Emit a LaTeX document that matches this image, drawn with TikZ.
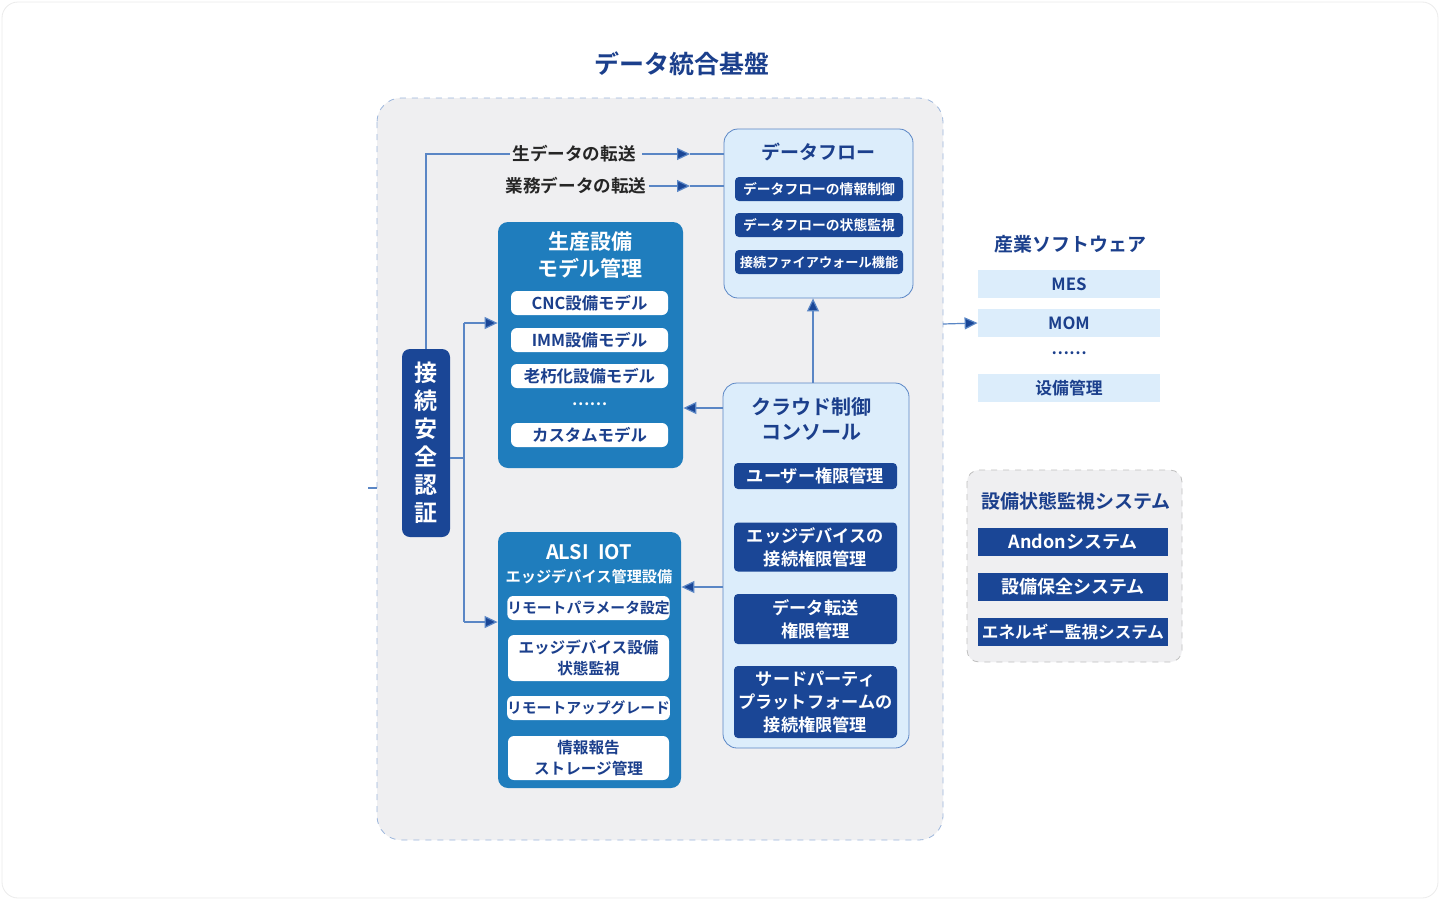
\documentclass[tikz,border=0pt]{standalone}
\usepackage{fontspec}
\setmainfont{Noto Sans CJK JP}[BoldFont={* Bold}]
\usetikzlibrary{arrows.meta}
\usetikzlibrary{calc}
\usetikzlibrary{positioning}
\definecolor{deep}{HTML}{1A4696}
\definecolor{mid}{HTML}{1F7DBD}
\definecolor{pale}{HTML}{DCEDFB}
\definecolor{ink}{HTML}{1B3F8C}
\definecolor{wire}{HTML}{5A86C5}
\definecolor{panel}{HTML}{EFEFF1}
\tikzset{
  dark/.style={fill=deep, text=white, rounded corners=2pt, inner sep=0pt, font=\bfseries\fontsize{6.9}{9.5}\selectfont, align=center},
  chip/.style={fill=white, text=ink, rounded corners=3pt, inner sep=0pt, font=\bfseries\fontsize{8.2}{10}\selectfont, align=center, minimum width=78.5pt, minimum height=12pt},
  soft/.style={fill=pale, text=ink, inner sep=0pt, font=\bfseries\fontsize{8.4}{10}\selectfont, minimum width=91pt, minimum height=14pt},
  link/.style={draw=wire, line width=0.6pt},
  tip/.style={link, -{Triangle[length=6.5pt,width=6pt,fill=deep]}},
}
\begin{document}
\begin{tikzpicture}[x=0.5pt, y=-0.5pt]
    \useasboundingbox (0,0) rectangle (1440,900);
    \draw[draw=black!8, fill=white, rounded corners=8pt] (2,2) rectangle (1438,898);
    \node[text=ink, font=\bfseries\fontsize{12.5}{14}\selectfont] (title) at (682,64) {データ統合基盤};

    % main panel
    \draw[draw=wire!60, fill=panel, dashed, rounded corners=12pt] (377,98) rectangle (943,840);
    \draw[link] (368,488) -- (377,488);

    % auth
    \node[fill=deep, text=white, rounded corners=4pt, minimum width=24pt, minimum height=94pt, inner sep=0pt,
          align=center, font=\bfseries\fontsize{11.5}{14}\selectfont] (auth) at (426,443) {接\\続\\安\\全\\認\\証};

    % data flow
    \node[draw=wire, fill=pale, rounded corners=7pt, minimum width=94.5pt, minimum height=84.5pt] (flow) at (818.5,213.5) {};
    \node[text=ink, font=\bfseries\fontsize{9.5}{11}\selectfont] (flowt) at (818.5,152) {データフロー};
    \node[dark, minimum width=84pt, minimum height=12pt] (f1) at (819,189) {データフローの情報制御};
    \node[dark, minimum width=84pt, minimum height=12pt] (f2) at (819,225) {データフローの状態監視};
    \node[dark, minimum width=84pt, minimum height=12pt, font=\bfseries\fontsize{6.6}{9}\selectfont] (f3) at (819,262) {接続ファイアウォール機能};

    % transfers
    \node[text=black!85, font=\bfseries\fontsize{8.8}{10}\selectfont, inner sep=1pt] (raw) at (574,154) {生データの転送};
    \node[text=black!85, font=\bfseries\fontsize{8.8}{10}\selectfont, inner sep=1pt] (biz) at (576,186) {業務データの転送};
    \draw[link] (auth.north) |- (raw.west);
    \draw[tip] (raw.east) ++(4,0) -- (690,154);
    \draw[link] (690,154) -- (flow.west |- 0,154);
    \draw[tip] (biz.east) -- (690,186);
    \draw[link] (690,186) -- (flow.west |- 0,186);

    % model management
    \node[fill=mid, rounded corners=5pt, minimum width=92.5pt, minimum height=123pt] (model) at (590.5,345) {};
    \node[text=white, align=center, font=\bfseries\fontsize{10.5}{13.5}\selectfont] (modelt) at (590,255) {生産設備\\モデル管理};
    \node[chip] (m1) at (589.5,303) {CNC設備モデル};
    \node[chip] (m2) at (589.5,340) {IMM設備モデル};
    \node[chip] (m3) at (589.5,376) {老朽化設備モデル};
    \node[text=white, font=\bfseries\fontsize{8}{9}\selectfont] (mdots) at (589.5,404) {……};
    \node[chip] (m4) at (589.5,435) {カスタムモデル};

    % edge management
    \node[fill=mid, rounded corners=5pt, minimum width=91.5pt, minimum height=128pt] (edge) at (589.5,660) {};
    \node[text=white, font=\bfseries\fontsize{10}{12}\selectfont] (edget) at (589,552) {ALSI\ \ IOT};
    \node[text=white, font=\bfseries\fontsize{7.6}{10}\selectfont] (edges) at (589,577) {エッジデバイス管理設備};
    \node[chip, minimum width=80.5pt, font=\bfseries\fontsize{7.4}{10}\selectfont] (e1) at (588.5,608) {リモートパラメータ設定};
    \node[chip, minimum width=80.5pt, minimum height=23pt, font=\bfseries\fontsize{7.8}{10.5}\selectfont] (e2) at (588.5,658) {エッジデバイス設備\\状態監視};
    \node[chip, minimum width=80.5pt, font=\bfseries\fontsize{7.4}{10}\selectfont] (e3) at (588.5,708) {リモートアップグレード};
    \node[chip, minimum width=80.5pt, minimum height=22pt, font=\bfseries\fontsize{7.8}{10.5}\selectfont] (e4) at (588.5,758) {情報報告\\ストレージ管理};

    \draw[link] (auth.east |- 0,458) -- (464,458);
    \draw[tip] (464,323) -- (model.west |- 0,323);
    \draw[tip] (464,622) -- (edge.west |- 0,622);
    \draw[link] (464,323) -- (464,622);

    % cloud console
    \node[draw=wire, fill=pale, rounded corners=7pt, minimum width=93pt, minimum height=182.5pt] (cloud) at (816,565.5) {};
    \node[text=ink, align=center, font=\bfseries\fontsize{10}{12.5}\selectfont] (cloudt) at (811,419) {クラウド制御\\コンソール};
    \node[dark, minimum width=81.5pt, minimum height=13pt, font=\bfseries\fontsize{8.6}{10}\selectfont] (c1) at (815.5,476) {ユーザー権限管理};
    \node[dark, minimum width=81.5pt, minimum height=24.5pt, font=\bfseries\fontsize{8.6}{11.5}\selectfont] (c2) at (815.5,547) {エッジデバイスの\\接続権限管理};
    \node[dark, minimum width=81.5pt, minimum height=25pt, font=\bfseries\fontsize{8.6}{11.5}\selectfont] (c3) at (815.5,619) {データ転送\\権限管理};
    \node[dark, minimum width=81.5pt, minimum height=36pt, font=\bfseries\fontsize{8.6}{11.5}\selectfont] (c4) at (815.5,702) {サードパーティ\\プラットフォームの\\接続権限管理};

    \draw[tip] (cloud.north -| 813,0) -- (flow.south -| 813,0);
    \draw[tip] (cloud.west |- 0,408) -- (model.east |- 0,408);
    \draw[tip] (cloud.west |- 0,587) -- (edge.east |- 0,587);

    % industrial software
    \node[text=ink, font=\bfseries\fontsize{9.5}{11}\selectfont] (soft) at (1070,244) {産業ソフトウェア};
    \node[soft] (mes) at (1069,284) {MES};
    \node[soft] (mom) at (1069,323) {MOM};
    \node[text=ink, font=\bfseries\fontsize{8}{9}\selectfont] (sdots) at (1069,353) {……};
    \node[soft] (eqp) at (1069,388) {设備管理};
    \draw[tip] (943,324) -- (mom.west);

    % monitoring systems
    \draw[draw=black!25, fill=panel, dashed, rounded corners=6pt] (967,470) rectangle (1182,662);
    \node[text=ink, font=\bfseries\fontsize{9.5}{11}\selectfont] (mont) at (1076,501) {設備状態監視システム};
    \node[dark, rounded corners=0pt, minimum width=95pt, minimum height=14pt, font=\bfseries\fontsize{9}{10}\selectfont] (s1) at (1073,542) {Andonシステム};
    \node[dark, rounded corners=0pt, minimum width=95pt, minimum height=14pt, font=\bfseries\fontsize{9}{10}\selectfont] (s2) at (1073,587) {設備保全システム};
    \node[dark, rounded corners=0pt, minimum width=95pt, minimum height=14pt, font=\bfseries\fontsize{8.3}{10}\selectfont] (s3) at (1073,632) {エネルギー監視システム};
\end{tikzpicture}
\end{document}
